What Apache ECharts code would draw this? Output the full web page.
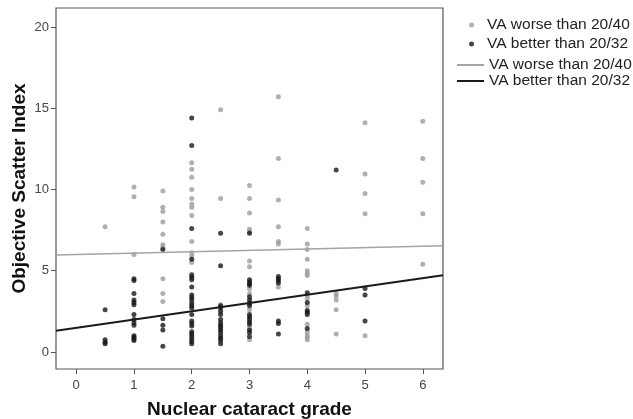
<!DOCTYPE html>
<html>
<head>
<meta charset="utf-8">
<script src="https://cdn.jsdelivr.net/npm/echarts@6/dist/echarts.min.js"></script>
<style>
  html, body { margin: 0; padding: 0; background: #fff; }
  #chart { width: 633px; height: 419px; }
</style>
</head>
<body>
<div id="chart"></div>
<script>
// nuclear cataract grade columns
const grades = [0.5, 1, 1.5, 2, 2.5, 3, 3.5, 4, 4.5, 5, 6];

// objective scatter index per grade, VA worse than 20/40 (grey dots)
const worseValues = [
  [7.7],
  [10.15, 9.55, 6.0],
  [9.9, 8.9, 8.65, 8.0, 7.25, 6.6, 6.45, 4.5, 3.6, 3.1],
  [11.65, 11.25, 10.75, 10.0, 9.45, 9.1, 8.9, 8.4, 6.8, 6.1, 5.9, 5.5],
  [14.9, 9.45, 2.9],
  [10.25, 9.45, 8.55, 7.55, 7.4, 5.6, 5.25, 3.9, 3.6, 2.6, 1.5, 0.75],
  [15.7, 11.9, 9.35, 7.7, 6.8, 6.65, 4.0],
  [7.6, 6.65, 6.3, 5.7, 5.0, 4.85, 4.7, 3.5, 3.3, 2.85, 1.7, 1.25, 1.05, 0.9, 0.75],
  [3.6, 3.45, 3.2, 2.6, 1.1],
  [14.1, 10.95, 9.75, 8.5, 1.0],
  [14.2, 11.9, 10.45, 8.5, 5.4]
];

// VA better than 20/32 (black dots)
const betterValues = [
  [2.6, 0.75, 0.6, 0.5],
  [4.5, 4.4, 3.6, 3.2, 3.05, 2.9, 2.3, 2.0, 1.8, 1.65, 1.0, 0.9, 0.8, 0.7],
  [6.3, 2.05, 1.65, 1.35, 0.35],
  [14.4, 12.7, 7.6, 5.7, 4.75, 4.6, 4.45, 4.0, 3.5, 3.35, 3.2, 3.0, 2.85, 2.7, 2.3, 1.9, 1.75, 1.6, 1.25, 1.1, 0.95, 0.8, 0.65, 0.5],
  [7.3, 5.3, 2.85, 2.7, 2.5, 2.3, 2.0, 1.8, 1.65, 1.5, 1.35, 1.2, 1.0, 0.85, 0.7, 0.5],
  [7.3, 4.45, 4.3, 4.2, 4.1, 3.4, 3.2, 3.0, 2.85, 2.3, 2.15, 2.0, 1.85, 1.7, 1.35, 1.2, 0.95],
  [4.65, 4.5, 4.4, 4.25, 1.9, 1.75, 1.1],
  [3.65, 3.05, 2.55, 2.45, 2.3, 1.45],
  [11.2],
  [3.9, 3.5, 1.9],
  []
];

// fit line end points [grade, index]
const worseFit = [[-0.35, 5.97], [6.35, 6.54]];
const betterFit = [[-0.35, 1.31], [6.35, 4.72]];

const xTicks = [0, 1, 2, 3, 4, 5, 6];
const yTicks = [0, 5, 10, 15, 20];

const worseName = 'VA worse than 20/40';
const betterName = 'VA better than 20/32';

function toPoints(values) {
  const pts = [];
  values.forEach((col, i) => {
    col.forEach((v) => pts.push([grades[i], v]));
  });
  return pts;
}

const font = 'Liberation Sans, Arial, sans-serif';
const chart = echarts.init(document.getElementById('chart'));

chart.setOption({
  animation: false,
  grid: {
    left: 56, right: 190, top: 8, bottom: 50,
    outerBoundsMode: 'none',
    show: true, borderColor: '#555', borderWidth: 1.2
  },
  legend: [
    {
      data: [worseName, betterName],
      orient: 'vertical',
      left: 464, top: 12,
      itemWidth: 21, itemHeight: 5, itemGap: 3,
      textStyle: { fontFamily: font, fontSize: 15.5, color: '#222' }
    },
    {
      // fit lines, drawn as thin bars
      data: [
        { name: worseName + ' fit', icon: 'path://M0,0L27,0L27,1.6L0,1.6Z' },
        { name: betterName + ' fit', icon: 'path://M0,0L27,0L27,2.4L0,2.4Z' }
      ],
      orient: 'vertical',
      left: 452, top: 52,
      itemWidth: 27, itemHeight: 2, itemGap: 0,
      symbolKeepAspect: false,
      formatter: (name) => name.replace(' fit', ''),
      textStyle: { fontFamily: font, fontSize: 15.5, color: '#222' }
    }
  ],
  xAxis: {
    type: 'value',
    min: -0.35, max: 6.35,
    name: 'Nuclear cataract grade',
    nameLocation: 'middle', nameGap: 31,
    nameMoveOverlap: false,
    nameTextStyle: { fontFamily: font, fontSize: 19, fontWeight: 'bold', color: '#111' },
    axisLine: { show: false, onZero: false },
    axisTick: { show: true, length: 5, customValues: xTicks, lineStyle: { color: '#555' } },
    axisLabel: { customValues: xTicks, fontFamily: font, fontSize: 13, color: '#444', margin: 10 },
    splitLine: { show: false }
  },
  yAxis: {
    type: 'value',
    min: -1.05, max: 21.17,
    name: 'Objective Scatter Index',
    nameLocation: 'middle', nameGap: 27,
    nameMoveOverlap: false,
    nameTextStyle: { fontFamily: font, fontSize: 19, fontWeight: 'bold', color: '#111' },
    axisLine: { show: false, onZero: false },
    axisTick: { show: true, length: 5, customValues: yTicks, lineStyle: { color: '#555' } },
    axisLabel: { customValues: yTicks, fontFamily: font, fontSize: 13, color: '#444', margin: 7 },
    splitLine: { show: false }
  },
  series: [
    {
      name: worseName,
      type: 'scatter',
      symbolSize: 5,
      itemStyle: { color: '#9c9c9c' },
      data: toPoints(worseValues)
    },
    {
      name: betterName,
      type: 'scatter',
      symbolSize: 5,
      itemStyle: { color: '#161616' },
      data: toPoints(betterValues)
    },
    {
      name: worseName + ' fit',
      type: 'line',
      symbol: 'none',
      lineStyle: { color: '#a4a4a4', width: 1.6 },
      itemStyle: { color: '#a4a4a4' },
      data: worseFit
    },
    {
      name: betterName + ' fit',
      type: 'line',
      symbol: 'none',
      lineStyle: { color: '#1a1a1a', width: 2 },
      itemStyle: { color: '#1a1a1a' },
      data: betterFit
    }
  ]
});

window.addEventListener('resize', () => {
  chart.resize();
});
</script>
</body>
</html>
